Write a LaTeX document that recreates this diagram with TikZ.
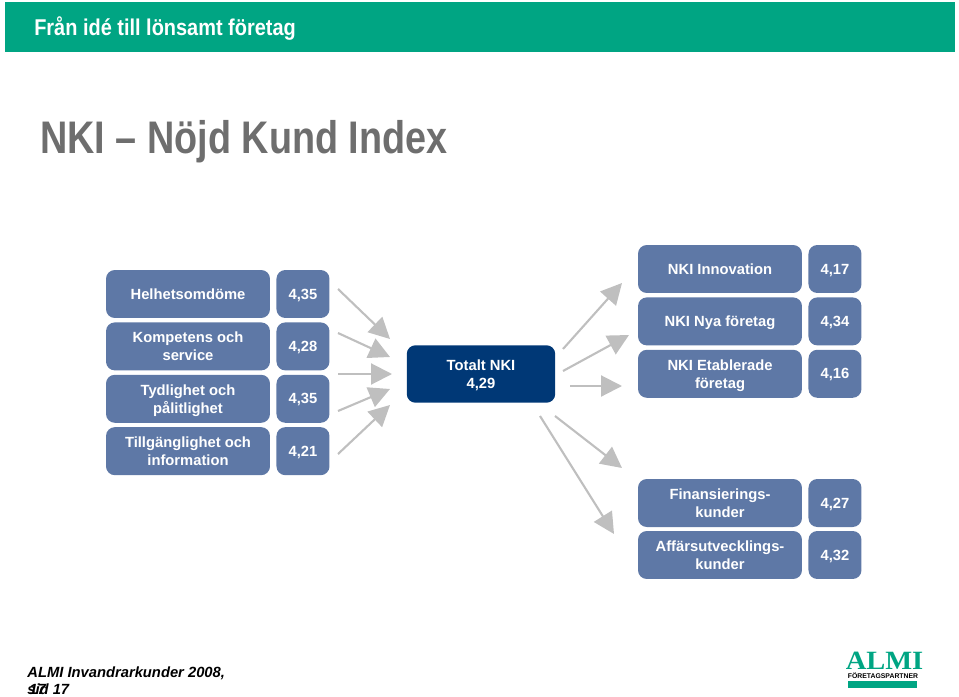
\documentclass[tikz,border=0pt]{standalone}
\usepackage{fontspec}
\setmainfont{Liberation Sans}
\newfontfamily\logofont{Liberation Serif}
\usetikzlibrary{positioning,arrows.meta}
\definecolor{almigreen}{HTML}{00A583}
\definecolor{boxblue}{HTML}{5E78A6}
\definecolor{totalblue}{HTML}{003876}
\definecolor{pilgrey}{HTML}{BFBFBF}
\definecolor{titlegrey}{HTML}{6E6E6E}
\begin{document}
\begin{tikzpicture}[x=0.02cm, y=-0.02cm,
  lbl/.style={fill=boxblue, rounded corners=5pt, align=center, font=\fontsize{8.4}{10.2}\selectfont\bfseries, text=white, text depth=0pt, minimum height=0.96cm, minimum width=3.28cm, inner sep=0pt, outer sep=0pt},
  val/.style={lbl, minimum width=1.06cm, right=0.13cm of #1},
  pil/.style={draw=pilgrey, line width=1.2pt, -{Triangle[length=0.42cm,width=0.42cm,fill=pilgrey]}}]
\useasboundingbox (0,0) rectangle (959,696);
% header
\node[fill=almigreen, minimum width=19cm, minimum height=1cm, inner sep=0pt, outer sep=0pt] (band) at (480,27) {};
\node[anchor=west, inner sep=0pt, text=white, font=\fontsize{13}{15}\selectfont\bfseries, xscale=0.873, transform shape] (head) at (34,29) {Från idé till lönsamt företag};
\node[anchor=west, inner sep=0pt, text=titlegrey, font=\fontsize{26}{30}\selectfont\bfseries, xscale=0.827, transform shape] (title) at (40,142) {NKI – Nöjd Kund Index};
% left column
\node[lbl] (hel) at (188,294) {Helhetsomdöme};
\node[val=hel] (helv) {4,35};
\node[lbl, below=0.088cm of hel] (kom) {Kompetens och\\service};
\node[val=kom] (komv) {4,28};
\node[lbl, below=0.088cm of kom] (tyd) {Tydlighet och\\pålitlighet};
\node[val=tyd] (tydv) {4,35};
\node[lbl, below=0.088cm of tyd] (til) {Tillgänglighet och\\information};
\node[val=til] (tilv) {4,21};
% total
\node[lbl, fill=totalblue, minimum width=2.97cm, minimum height=1.15cm] (tot) at (481,374) {Totalt NKI\\4,29};
% right column
\node[lbl] (inn) at (720,269) {NKI Innovation};
\node[val=inn] (innv) {4,17};
\node[lbl, below=0.088cm of inn] (nya) {NKI Nya företag};
\node[val=nya] (nyav) {4,34};
\node[lbl, below=0.088cm of nya] (eta) {NKI Etablerade\\företag};
\node[val=eta] (etav) {4,16};
\node[lbl] (fin) at (720,503) {Finansierings-\\kunder};
\node[val=fin] (finv) {4,27};
\node[lbl, below=0.08cm of fin] (aff) {Affärsutvecklings-\\kunder};
\node[val=aff] (affv) {4,32};
% arrows
\foreach \n/\ax/\ay/\bx/\by in {a/338/289/390/339, b/338/333/390/357, c/338/374/392/374, d/338/411/390/389, e/338/454/390/405, f/563/349/622/283, g/563/371/629/335, h/570/386/622/386, i/555/416/622/468, j/540/416/614/534} {
  \coordinate (\n1) at (\ax,\ay);
  \coordinate (\n2) at (\bx,\by);
  \draw[pil] (\n1) -- (\n2);
}
% footer
\node[anchor=north west, align=left, inner sep=0pt, font=\fontsize{8.4}{10.2}\selectfont\bfseries\itshape] (foot) at (27,666) {ALMI Invandrarkunder 2008,\\sid 17};
\node[anchor=north west, inner sep=0pt, font=\fontsize{8.4}{10.2}\selectfont\bfseries\itshape] (footb) at (29,684) {17};
% logo
\node[inner sep=0pt, text=almigreen, font=\logofont\fontsize{15}{15}\selectfont\bfseries, xscale=1.08, transform shape] (almi) at (884.5,661) {ALMI};
\node[inner sep=0pt, font=\fontsize{3.9}{5}\selectfont\bfseries] (partner) at (883,675.5) {FÖRETAGSPARTNER};
\node[fill=almigreen, minimum width=1.38cm, minimum height=0.14cm, inner sep=0pt] (bar) at (882.5,684.5) {};
\end{tikzpicture}
\end{document}
